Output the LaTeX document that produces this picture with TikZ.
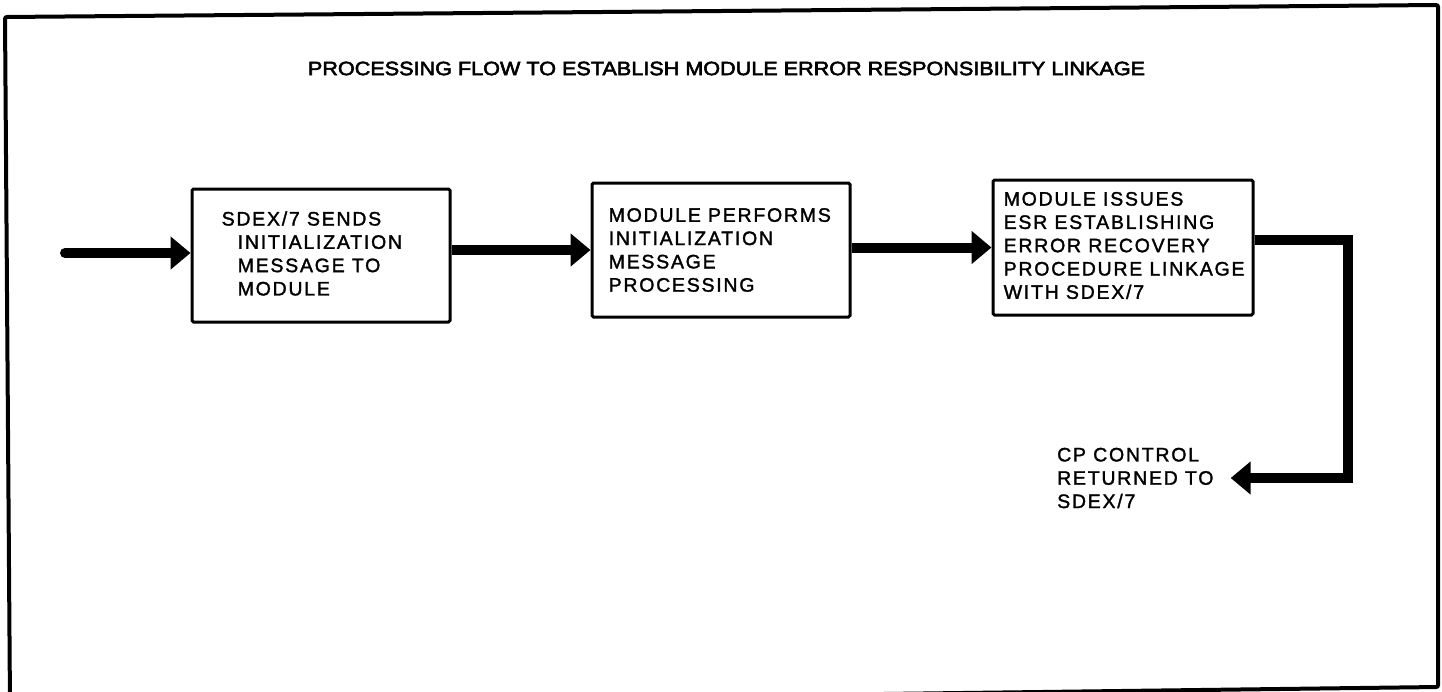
\documentclass[tikz,border=0pt]{standalone}
\usepackage{fontspec}
\setmainfont{Liberation Sans}
\newfontfamily\boxfont[LetterSpace=9,FakeBold=1.6]{Liberation Sans}
\newfontfamily\titlefont[FakeBold=2.6]{Liberation Sans}
\usetikzlibrary{arrows.meta}
\tikzset{
  stepbox/.style={draw, line width=3pt, rounded corners=1.5pt, inner sep=0pt},
  txt/.style={inner sep=0pt, align=left, font=\boxfont\fontsize{19.5pt}{23.3pt}\selectfont},
  arr/.style={line width=10pt, -{Triangle[length=20pt,width=32pt]}},
}
\begin{document}
\begin{tikzpicture}[x=1pt,y=-1pt]
\useasboundingbox (0,0) rectangle (1442,691);
\fill[white] (0,0) rectangle (1442,691);
\begin{scope}
\clip (0,0) rectangle (1442,691);
\draw[line width=4pt, rounded corners=2pt] (5,17) -- (1438,5) -- (1438,687) -- (10,705) -- cycle;
\end{scope}

\node[inner sep=0pt] (title) at (726.5,68.5)
  {\resizebox{837pt}{13.5pt}{\titlefont PROCESSING FLOW TO ESTABLISH MODULE ERROR RESPONSIBILITY LINKAGE}};

\node[stepbox, minimum width=258pt, minimum height=133pt] (b1) at (321,255.5) {};
\node[txt, anchor=west] (t1) at ([xshift=31pt,yshift=2pt]b1.west)
  {SDEX/7 SENDS\\\hspace*{16pt}INITIALIZATION\\\hspace*{16pt}MESSAGE TO\\\hspace*{16pt}MODULE};

\node[stepbox, minimum width=258pt, minimum height=134pt] (b2) at (721,250) {};
\node[txt, anchor=west] (t2) at ([xshift=18pt]b2.west)
  {MODULE PERFORMS\\INITIALIZATION\\MESSAGE\\PROCESSING};

\node[stepbox, minimum width=260pt, minimum height=135pt] (b3) at (1123,247.5) {};
\node[txt, anchor=west] (t3) at ([xshift=12pt,yshift=2pt]b3.west)
  {MODULE ISSUES\\ESR ESTABLISHING\\ERROR RECOVERY\\PROCEDURE LINKAGE\\WITH SDEX/7};

\node[txt, anchor=west, inner xsep=17pt, inner ysep=0pt] (cp) at (1040,478)
  {CP CONTROL\\RETURNED TO\\SDEX/7};

\coordinate (in) at (65,253);
\draw[arr, line cap=round] (in) -- (in -| b1.west);
\draw[arr] (b1.east |- b2.west) -- (b2.west);
\draw[arr] (b2.east |- b3.west) -- (b3.west);
\draw[arr, line join=miter] ([yshift=7.5pt]b3.east) -- ++(93,0) |- (cp.east);
\end{tikzpicture}
\end{document}
